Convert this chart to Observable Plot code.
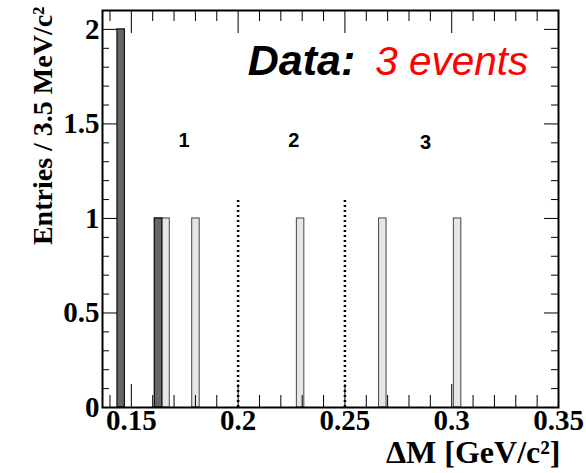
<!DOCTYPE html>
<html>
<head>
<meta charset="utf-8">
<script src="https://cdn.jsdelivr.net/npm/d3@7"></script>
<script src="https://cdn.jsdelivr.net/npm/@observablehq/plot@0.6"></script>
<style>
  html, body { margin: 0; padding: 0; background: #fff; }
  svg { overflow: visible; }
</style>
</head>
<body>
<div id="chart"></div>
<script>
// ---- data ----
const binWidth = 0.0035;                 // GeV/c^2 per bin
const xDomain = [0.1365, 0.35];
const yDomain = [0, 2.1];
const lightStart = [0.161, 0.1645, 0.1785, 0.2275, 0.266, 0.301];
const lightCount = [1, 1, 1, 1, 1, 1];
const darkStart = [0.1435, 0.161];
const darkCount = [2, 1];
const cutLines = [0.2, 0.25];
const cutHeight = 1.1;
const regionLabels = ["1", "2", "3"];
const regionX = [0.1747, 0.2261, 0.2877];
const regionY = [1.41, 1.41, 1.40];
const xMajor = [0.15, 0.2, 0.25, 0.3, 0.35];
const xMinor = [0.14, 0.16, 0.17, 0.18, 0.19, 0.21, 0.22, 0.23, 0.24, 0.26, 0.27, 0.28, 0.29, 0.31, 0.32, 0.33, 0.34];
const yMajor = [0, 0.5, 1, 1.5, 2];
const yMinor = [0.1, 0.2, 0.3, 0.4, 0.6, 0.7, 0.8, 0.9, 1.1, 1.2, 1.3, 1.4, 1.6, 1.7, 1.8, 1.9];
const titleParts = ["Data:", "3 events"];
const titleX = [0.2045, 0.2642];
const titleY = [1.83, 1.83];
const xTitle = "ΔM [GeV/c²]";
const yTitle = "Entries / 3.5 MeV/c²";

// ---- tables ----
const light = lightStart.map((s, i) => ({x1: s, x2: s + binWidth, y: lightCount[i]}));
const dark = darkStart.map((s, i) => ({x1: s, x2: s + binWidth, y: darkCount[i]}));
const labels = regionLabels.map((t, i) => ({t, x: regionX[i], y: regionY[i]}));

// ---- layout ----
const W = 586, H = 473;
const mL = 102, mR = 28, mT = 10, mB = 66;
const fw = W - mL - mR, fh = H - mT - mB;
const serif = "'Liberation Serif', 'Times New Roman', serif";
const sans = "'Liberation Sans', Arial, Helvetica, sans-serif";

const chart = Plot.plot({
  width: W, height: H,
  marginLeft: mL, marginRight: mR, marginTop: mT, marginBottom: mB,
  x: {domain: xDomain},
  y: {domain: yDomain},
  style: {background: "#fff"},
  marks: [
    Plot.rectY(light, {x1: "x1", x2: "x2", y: "y", fill: "#e6e6e6", stroke: "#444", strokeWidth: 1}),
    Plot.rectY(dark, {x1: "x1", x2: "x2", y: "y", fill: "#666", stroke: "#111", strokeWidth: 1.2}),
    Plot.ruleX(cutLines, {x: d => d, y1: 0, y2: cutHeight, stroke: "#000", strokeWidth: 2.5, strokeDasharray: "2,3"}),
    // inward ticks: bottom
    Plot.ruleX(xMajor, {x: d => d, insetTop: fh - 23, stroke: "#000", strokeWidth: 1}),
    Plot.ruleX(xMinor, {x: d => d, insetTop: fh - 12, stroke: "#000", strokeWidth: 1}),
    // top
    Plot.ruleX(xMajor, {x: d => d, insetBottom: fh - 23, stroke: "#000", strokeWidth: 1}),
    Plot.ruleX(xMinor, {x: d => d, insetBottom: fh - 11, stroke: "#000", strokeWidth: 1}),
    // left
    Plot.ruleY(yMajor, {y: d => d, insetRight: fw - 15, stroke: "#000", strokeWidth: 1}),
    Plot.ruleY(yMinor, {y: d => d, insetRight: fw - 7, stroke: "#000", strokeWidth: 1}),
    // right
    Plot.ruleY(yMajor, {y: d => d, insetLeft: fw - 14, stroke: "#000", strokeWidth: 1}),
    Plot.ruleY(yMinor, {y: d => d, insetLeft: fw - 7, stroke: "#000", strokeWidth: 1}),
    Plot.frame({stroke: "#000", strokeWidth: 2}),
    Plot.axisX({anchor: "bottom", ticks: xMajor, tickSize: 0, tickPadding: 2, tickFormat: d => String(d),
      label: null, fontSize: 29, fontWeight: "bold", fontFamily: serif, fill: "#000"}),
    Plot.axisY({anchor: "left", ticks: yMajor, tickSize: 0, tickPadding: 3, tickFormat: d => String(d),
      label: null, fontSize: 29, fontWeight: "bold", fontFamily: serif, fill: "#000"}),
    Plot.text(labels, {x: "x", y: "y", text: "t", fontSize: 20, fontWeight: "bold", fontFamily: sans, fill: "#000"}),
    Plot.text([titleParts[0]], {x: titleX[0], y: titleY[0], text: d => d, textAnchor: "start",
      fontSize: 43, fontWeight: "bold", fontStyle: "italic", fontFamily: sans, fill: "#000"}),
    Plot.text([titleParts[1]], {x: titleX[1], y: titleY[1], text: d => d, textAnchor: "start",
      fontSize: 40.5, fontStyle: "italic", fontFamily: sans, fill: "#ff0000"}),
    Plot.text([xTitle], {frameAnchor: "bottom-right", text: d => d, textAnchor: "end", dx: 2, dy: 55,
      fontSize: 32, fontWeight: "bold", fontFamily: serif, fill: "#000"}),
    Plot.text([yTitle], {frameAnchor: "top-left", text: d => d, textAnchor: "end", rotate: -90, dx: -70, dy: -4,
      fontSize: 28, fontWeight: "bold", fontFamily: serif, fill: "#000"})
  ]
});
document.getElementById("chart").appendChild(chart);
</script>
</body>
</html>
